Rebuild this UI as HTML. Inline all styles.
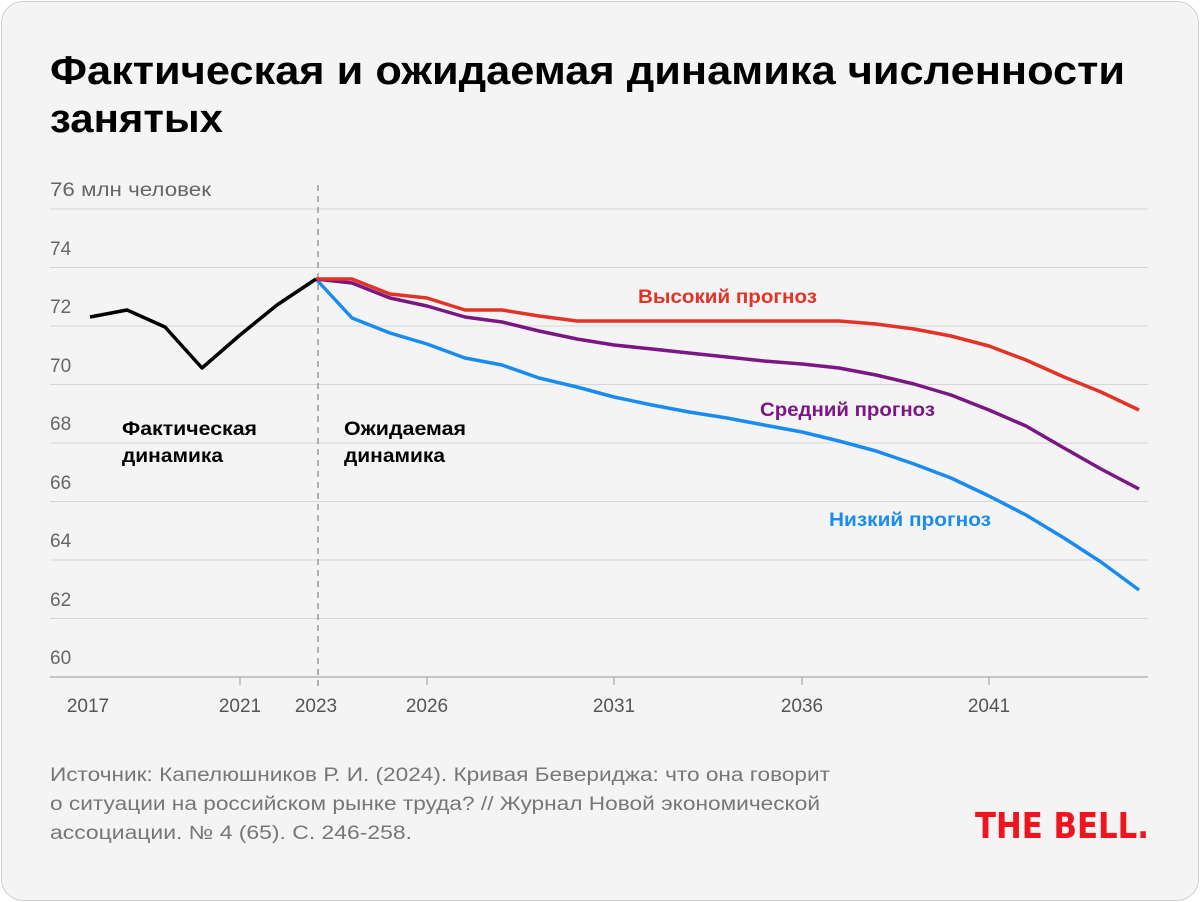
<!DOCTYPE html>
<html><head><meta charset="utf-8"><style>
body{margin:0;background:#fff;width:1200px;height:902px;overflow:hidden;font-family:"Liberation Sans","DejaVu Sans",sans-serif}
.card{position:absolute;left:1px;top:1px;width:1196px;height:898px;border:1px solid #cfcfcf;border-radius:22px;background:#f4f4f4}
</style></head><body><div class="card"></div>
<svg width="1200" height="902" style="position:absolute;left:0;top:0" font-family="Liberation Sans, DejaVu Sans, sans-serif">
<text x="50" y="84" font-size="40" font-weight="bold" fill="#000" textLength="1075" lengthAdjust="spacingAndGlyphs">Фактическая и ожидаемая динамика численности</text>
<text x="50" y="132" font-size="40" font-weight="bold" fill="#000" textLength="173" lengthAdjust="spacingAndGlyphs">занятых</text>
<g stroke="#d6d6d6" stroke-width="1">
<line x1="50" x2="1148" y1="209" y2="209"/><line x1="50" x2="1148" y1="267.5" y2="267.5"/>
<line x1="50" x2="1148" y1="326" y2="326"/><line x1="50" x2="1148" y1="384.5" y2="384.5"/>
<line x1="50" x2="1148" y1="443" y2="443"/><line x1="50" x2="1148" y1="501.5" y2="501.5"/>
<line x1="50" x2="1148" y1="560" y2="560"/><line x1="50" x2="1148" y1="618.5" y2="618.5"/>
</g>
<line x1="50" x2="1148" y1="677" y2="677" stroke="#999"/>
<g stroke="#999"><line x1="240" x2="240" y1="677" y2="685"/><line x1="427" x2="427" y1="677" y2="685"/><line x1="614" x2="614" y1="677" y2="685"/><line x1="802" x2="802" y1="677" y2="685"/><line x1="989" x2="989" y1="677" y2="685"/></g>
<g font-size="19" fill="#666">
<text x="50" y="196" textLength="161" lengthAdjust="spacingAndGlyphs">76 млн человек</text>
<text x="50" y="255">74</text><text x="50" y="313">72</text><text x="50" y="372">70</text>
<text x="50" y="430">68</text><text x="50" y="489">66</text><text x="50" y="547">64</text>
<text x="50" y="606">62</text><text x="50" y="664">60</text>
</g>
<g font-size="19" fill="#555" text-anchor="middle">
<text x="88" y="712">2017</text><text x="240" y="712">2021</text><text x="316" y="712">2023</text>
<text x="427" y="712">2026</text><text x="614" y="712">2031</text><text x="802" y="712">2036</text><text x="989" y="712">2041</text>
</g>
<line x1="318" x2="318" y1="185" y2="690" stroke="#999" stroke-width="1.5" stroke-dasharray="6,5"/>
<g fill="none" stroke-width="3.5" stroke-linejoin="round">
<polyline stroke="#1a8cf0" points="316,279 352,318 390,333 427,344 465,358 502,365 539,378 577,387 614,397 652,405 689,412 727,418 764,425 802,432 839,441 876,451 914,464 951,478 989,496 1026,515 1064,538 1101,562 1139,590"/>
<polyline stroke="#7a1782" points="316,279 352,283 390,298 427,306 465,317 502,322 539,331 577,339 614,345 652,349 689,353 727,357 764,361 802,364 839,368 876,375 914,384 951,395 989,410 1026,426 1064,448 1101,469 1139,489"/>
<polyline stroke="#e23326" points="316,279 352,279 390,294 427,298 465,310 502,310 539,316 577,321 839,321 876,324 914,329 951,336 989,346 1026,360 1064,377 1101,392 1139,410"/>
<polyline stroke="#000" points="90,317 127,310 165,327 202,368 240,335 277,305 316,279"/>
</g>
<g font-size="19" font-weight="bold" lengthAdjust="spacingAndGlyphs">
<text x="122" y="435" fill="#000" textLength="135" lengthAdjust="spacingAndGlyphs">Фактическая</text><text x="122" y="462" fill="#000" textLength="101" lengthAdjust="spacingAndGlyphs">динамика</text>
<text x="344" y="435" fill="#000" textLength="122" lengthAdjust="spacingAndGlyphs">Ожидаемая</text><text x="344" y="462" fill="#000" textLength="101" lengthAdjust="spacingAndGlyphs">динамика</text>
<text x="638" y="303" fill="#e23326" textLength="179" lengthAdjust="spacingAndGlyphs">Высокий прогноз</text>
<text x="760" y="416" fill="#7a1782" textLength="175" lengthAdjust="spacingAndGlyphs">Средний прогноз</text>
<text x="829" y="526" fill="#1a8cf0" textLength="162" lengthAdjust="spacingAndGlyphs">Низкий прогноз</text>
</g>
<g font-size="19" fill="#777">
<text x="50" y="781" textLength="780" lengthAdjust="spacingAndGlyphs">Источник: Капелюшников Р. И. (2024). Кривая Бевериджа: что она говорит</text>
<text x="50" y="810" textLength="770" lengthAdjust="spacingAndGlyphs">о ситуации на российском рынке труда? // Журнал Новой экономической</text>
<text x="50" y="839" textLength="362" lengthAdjust="spacingAndGlyphs">ассоциации. № 4 (65). С. 246-258.</text>
</g>
<text x="975" y="838" font-size="36" font-weight="900" fill="#f0141e" textLength="174" lengthAdjust="spacingAndGlyphs" style="font-family:'DejaVu Sans',sans-serif">THE BELL.</text>
</svg>
</body></html>
